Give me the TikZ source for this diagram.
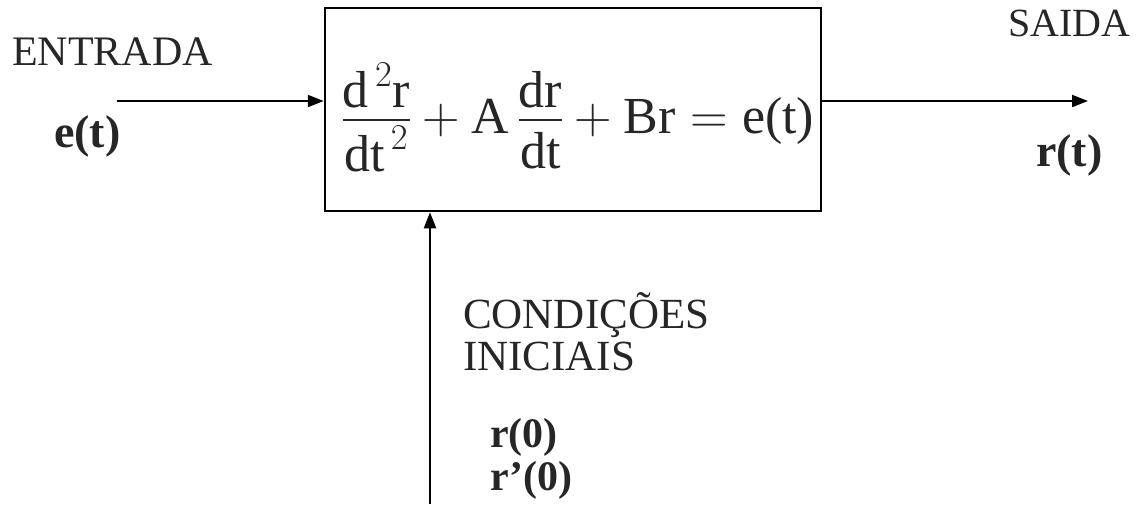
\RequirePackage{fix-cm}
\documentclass[tikz,border=0pt]{standalone}
\usepackage{amsmath}
\usepackage{fontspec}
\setmainfont{Liberation Serif}
\usetikzlibrary{positioning,calc,arrows.meta}

\newcommand{\fracbox}[2]{\genfrac{}{}{1.8pt}{0}{\smash[b]{\raisebox{-10pt}{$\displaystyle#1$}}}{#2}}

\tikzset{
  sinal/.style={line width=2pt, -{Triangle[length=16pt,width=12pt]}},
  rotulo/.style={anchor=base west, inner sep=0pt, text=black!85, font=\fontsize{42}{46}\selectfont},
  negrito/.style={anchor=base west, inner sep=0pt, text=black!85, font=\fontsize{42}{46}\selectfont\bfseries}
}

\begin{document}
\begin{tikzpicture}[x=1pt, y=-1pt]
  \useasboundingbox (0,0) rectangle (1141,504);

  % System block
  \node[draw, line width=2.5pt, minimum width=496pt, minimum height=203pt, inner sep=0pt] (sistema) at (573,109.5) {};
  \node[anchor=base, inner sep=0pt, text=black!85, font=\fontsize{52}{56}\selectfont] (eq) at (578,133)
    {$\fracbox{\mathrm{d}^{\,2}\mathrm{r}}{\mathrm{dt}^{\,2}}+\mathrm{A}\,\fracbox{\mathrm{dr}}{\mathrm{dt}}+\mathrm{Br}=\text{e(t)}$};

  % Input e(t)
  \coordinate (ent) at (117,101);
  \node[rotulo] (entrada) at (12,65) {ENTRADA};
  \node[negrito, font=\fontsize{46}{50}\selectfont\bfseries] (et) at (54,147) {e(t)};
  \draw[sinal] (ent) -- (ent -| sistema.west);

  % Output r(t)
  \coordinate (sai) at (1088,101);
  \node[rotulo, font=\fontsize{40}{44}\selectfont] (saida) at (1008,36) {SAIDA};
  \node[negrito, font=\fontsize{46}{50}\selectfont\bfseries] (rt) at (1036,166) {r(t)};
  \draw[sinal] (sai -| sistema.east) -- (sai);

  % Initial conditions
  \coordinate (ci) at (430,504);
  \node[rotulo, font=\fontsize{43}{46}\selectfont] (cond) at (463,328) {CONDIÇÕES};
  \node[rotulo, font=\fontsize{43}{46}\selectfont] (inic) at (463,370) {INICIAIS};
  \node[negrito] (r0) at (490,447) {r(0)};
  \node[negrito] (r1) at (490,490) {r’(0)};
  \draw[sinal] (ci) -- (ci |- sistema.south);
\end{tikzpicture}
\end{document}
